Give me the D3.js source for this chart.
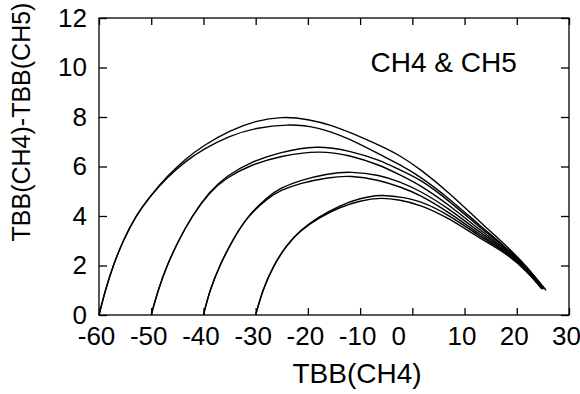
<!DOCTYPE html>
<html>
<head>
<meta charset="utf-8">
<script src="https://cdn.jsdelivr.net/npm/d3@7"></script>
<style>
  body { margin: 0; background: #fff; }
  text { font-family: "Liberation Sans", Arial, sans-serif; fill: #000; }
</style>
</head>
<body>
<svg id="chart"></svg>
<script>
// tick values
var xTicks = [-60, -50, -40, -30, -20, -10, 0, 10, 20, 30];
var yTicks = [0, 2, 4, 6, 8, 10, 12];

// curves, [TBB(CH4), TBB(CH4)-TBB(CH5)]
// group starting at -60
var curveA1 = [[-60,0],[-58.8,1],[-57.3,2],[-55.4,3],[-53,4],[-50.2,4.8],[-47,5.6],[-43.5,6.3],[-40,6.85],[-35,7.45],[-30,7.85],[-25,8.02],[-20,7.92],[-15,7.64],[-12,7.38],[-6.2,6.85],[-2.4,6.45],[1.5,5.9],[7,4.95],[13,3.75],[18,2.8],[22,1.95],[25.6,1.0]];
var curveA2 = [[-60,0],[-58.8,1],[-57.3,2],[-55.4,3],[-53,4],[-50.2,4.8],[-47,5.55],[-43.5,6.2],[-40,6.7],[-35,7.25],[-30,7.56],[-24,7.72],[-18,7.6],[-12,7.12],[-6.2,6.48],[-2.4,6.08],[1.5,5.6],[7,4.72],[13,3.6],[18,2.72],[22,1.9],[25.3,1.05]];
// group starting at -50
var curveB1 = [[-50,0],[-48.7,1],[-47,2],[-44.8,3],[-42.2,4],[-38.8,5],[-35.6,5.62],[-31.1,6.17],[-25.3,6.58],[-18.3,6.86],[-12,6.64],[-6.2,6.26],[-2.4,5.86],[1.5,5.49],[7,4.62],[13,3.52],[18,2.7],[22,1.88],[25,1.1]];
var curveB2 = [[-50,0],[-48.7,1],[-47,2],[-44.8,3],[-42.2,4],[-38.8,4.97],[-35.6,5.55],[-31.1,6.05],[-25.3,6.43],[-17.7,6.65],[-12,6.46],[-6.2,6.06],[-2.4,5.66],[1.5,5.25],[7,4.45],[13,3.42],[18,2.65],[22,1.85],[25.2,1.08]];
// group starting at -40
var curveC1 = [[-40,0],[-38.8,1],[-36.9,2],[-34.5,3],[-31.6,4],[-27.6,4.8],[-25.3,5.12],[-21.5,5.45],[-16,5.72],[-11.9,5.8],[-6.2,5.66],[-2.4,5.38],[1.5,5.02],[7,4.3],[13,3.32],[18,2.62],[22,1.82],[25,1.05]];
var curveC2 = [[-40,0],[-38.8,1],[-36.9,2],[-34.5,3],[-31.6,3.98],[-27.6,4.74],[-25.3,5.03],[-21.5,5.33],[-16,5.56],[-11.9,5.64],[-6.2,5.45],[-2.4,5.18],[1.5,4.86],[7,4.15],[13,3.24],[18,2.58],[22,1.8],[24.8,1.1]];
// group starting at -30
var curveD1 = [[-30,0],[-28.7,1],[-26.6,2],[-24,2.85],[-21.5,3.42],[-18,3.96],[-14,4.42],[-10,4.72],[-6,4.87],[-2.4,4.77],[1.5,4.62],[7,4.05],[13,3.16],[18,2.55],[22,1.78],[24.8,1.05]];
var curveD2 = [[-30,0],[-28.7,1],[-26.6,2],[-24,2.85],[-21.5,3.4],[-18,3.92],[-14,4.35],[-10,4.62],[-6,4.75],[-2.4,4.65],[1.5,4.46],[7,3.92],[13,3.08],[18,2.5],[22,1.75],[24.6,1.12]];

var curves = [curveA1, curveA2, curveB1, curveB2, curveC1, curveC2, curveD1, curveD2];

var width = 580, height = 394;
var margin = {top: 18, right: 11, bottom: 79, left: 99};

var svg = d3.select("#chart")
  .attr("width", width)
  .attr("height", height);

var x = d3.scaleLinear()
  .domain([-60, 30])
  .range([margin.left, width - margin.right]);

var y = d3.scaleLinear()
  .domain([0, 12])
  .range([height - margin.bottom, margin.top]);

// plain hyphen for negatives, like the original
var fmt = function(d) { return String(d); };

// axes, ticks pointing inward
var bottom = svg.append("g")
  .attr("transform", "translate(0," + y(0) + ")")
  .call(d3.axisBottom(x).tickValues(xTicks).tickFormat(fmt).tickSizeInner(-7).tickSizeOuter(0).tickPadding(12));

var top_ = svg.append("g")
  .attr("transform", "translate(0," + y(12) + ")")
  .call(d3.axisTop(x).tickValues(xTicks).tickSizeInner(-7).tickSizeOuter(0).tickFormat(""));

var left = svg.append("g")
  .attr("transform", "translate(" + x(-60) + ",0)")
  .call(d3.axisLeft(y).tickValues(yTicks).tickFormat(fmt).tickSizeInner(-8).tickSizeOuter(0).tickPadding(12));

var right = svg.append("g")
  .attr("transform", "translate(" + x(30) + ",0)")
  .call(d3.axisRight(y).tickValues(yTicks).tickSizeInner(-8).tickSizeOuter(0).tickFormat(""));

svg.selectAll(".domain").remove();
svg.selectAll(".tick line").attr("stroke", "#000").attr("stroke-width", 1.3);
svg.selectAll(".tick text").style("font-size", "26px").attr("fill", "#000");

// the zero label sits a bit left of its tick in the original
bottom.selectAll(".tick text").attr("dx", function(d) { return d === 0 ? -14 : -3; });

// frame
svg.append("rect")
  .attr("x", x(-60))
  .attr("y", y(12))
  .attr("width", x(30) - x(-60))
  .attr("height", y(0) - y(12))
  .attr("fill", "none")
  .attr("stroke", "#000")
  .attr("stroke-width", 1.3);

var line = d3.line()
  .x(function(d) { return x(d[0]); })
  .y(function(d) { return y(d[1]); })
  .curve(d3.curveBasis);

svg.append("g").selectAll("path")
  .data(curves)
  .enter().append("path")
  .attr("d", line)
  .attr("fill", "none")
  .attr("stroke", "#000")
  .attr("stroke-width", 1.4);

// titles
svg.append("text")
  .attr("x", 357)
  .attr("y", 383)
  .attr("text-anchor", "middle")
  .style("font-size", "28px")
  .text("TBB(CH4)");

svg.append("text")
  .attr("transform", "translate(30,122) rotate(-90)")
  .attr("text-anchor", "middle")
  .style("font-size", "25px")
  .text("TBB(CH4)-TBB(CH5)");

svg.append("text")
  .attr("x", x(-8))
  .attr("y", y(9.8))
  .style("font-size", "28px")
  .text("CH4 & CH5");
</script>
</body>
</html>
